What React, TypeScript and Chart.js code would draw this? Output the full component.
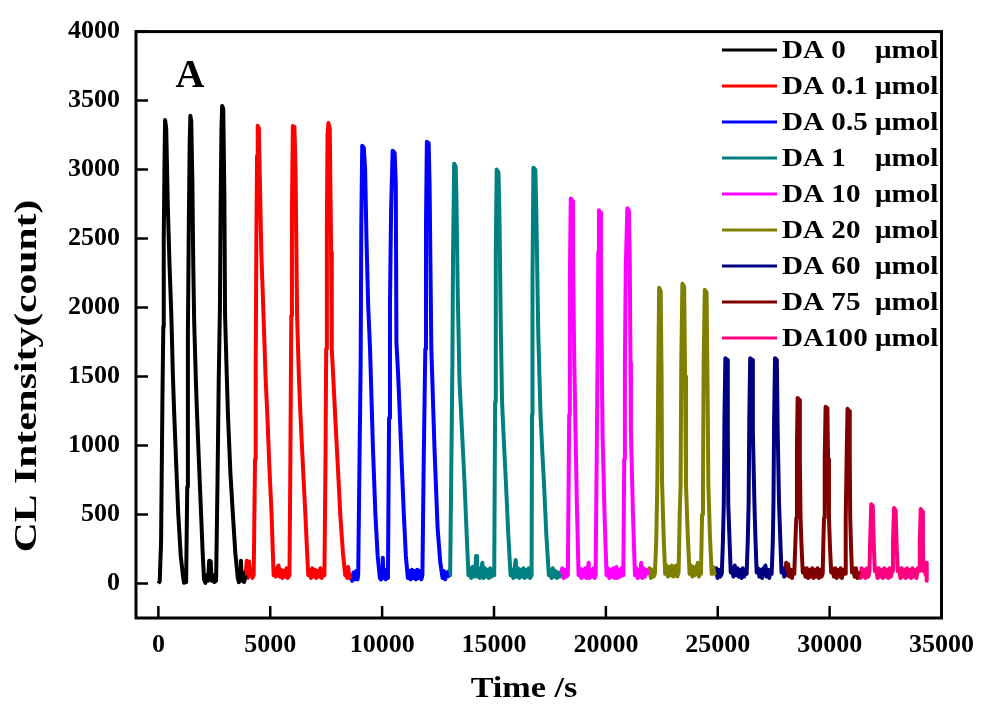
import { useEffect, useRef } from "react";
import { Chart, registerables } from "chart.js";

Chart.register(...registerables);

const seriesNames = ["DA 0", "DA 0.1", "DA 0.5", "DA 1", "DA 10", "DA 20", "DA 60", "DA 75", "DA100"];
const seriesUnit = "μmol";
const seriesColors = ["#000000", "#FF0000", "#0000FF", "#008080", "#FF00FF", "#808000", "#000080", "#800000", "#FF0080"];

const xTicks = [0, 5000, 10000, 15000, 20000, 25000, 30000, 35000];
const yTicks = [0, 500, 1000, 1500, 2000, 2500, 3000, 3500, 4000];

const da0: [number, number][] = [
  [0, 0], [60, 15], [120, 300], [180, 1316], [220, 1860], [240, 2500], [270, 3000], [300, 3360], [350, 3300], [420, 2750],
  [500, 2300], [580, 1940], [650, 1500], [710, 1220], [800, 850], [890, 500], [1000, 200], [1110, 40], [1150, 5], [1200, 40],
  [1240, 10], [1290, 700], [1320, 1820], [1360, 2600], [1400, 3200], [1430, 3390], [1470, 3350], [1520, 2900], [1560, 2300], [1600, 1900],
  [1680, 1450], [1730, 1220], [1820, 850], [1910, 500], [1980, 220], [2040, 30], [2100, 5], [2160, 60], [2220, 20], [2270, 165],
  [2300, 30], [2340, 160], [2380, 20], [2440, 60], [2500, 10], [2580, 20], [2640, 700], [2700, 1500], [2750, 1985], [2780, 2700],
  [2820, 3300], [2850, 3460], [2900, 3440], [2950, 2800], [2980, 1950], [3040, 1600], [3110, 1220], [3220, 800], [3330, 500], [3440, 220],
  [3550, 40], [3600, 10], [3650, 60], [3690, 165], [3730, 20], [3780, 80], [3830, 10], [3900, 60],
];

const da01: [number, number][] = [
  [3900, 60], [3950, 165], [4000, 40], [4050, 160], [4100, 60], [4150, 100], [4200, 40], [4260, 60], [4320, 900], [4350, 1600],
  [4380, 2500], [4410, 3100], [4440, 3317], [4490, 3300], [4540, 2900], [4600, 2400], [4700, 1940], [4790, 1500], [4870, 1220], [4960, 850],
  [5060, 500], [5110, 250], [5150, 60], [5200, 100], [5250, 50], [5300, 110], [5370, 130], [5420, 50], [5480, 100], [5540, 40],
  [5600, 90], [5660, 50], [5720, 110], [5780, 40], [5860, 60], [5900, 900], [5940, 1940], [5970, 2700], [6010, 3315], [6080, 3310],
  [6130, 3000], [6200, 1940], [6280, 1500], [6350, 1220], [6460, 850], [6570, 500], [6640, 250], [6700, 60], [6760, 100], [6820, 40],
  [6880, 110], [6940, 50], [7000, 100], [7060, 40], [7120, 90], [7180, 50], [7240, 110], [7300, 40], [7360, 70], [7420, 60],
  [7470, 900], [7500, 1700], [7530, 2600], [7560, 3250], [7600, 3338], [7660, 3300], [7720, 2400], [7750, 1700], [7830, 1450], [7900, 1220],
  [8020, 850], [8130, 500], [8250, 220], [8350, 60], [8400, 100], [8440, 40], [8480, 120], [8540, 40], [8600, 60],
];

const da05: [number, number][] = [
  [8600, 60], [8660, 20], [8720, 80], [8780, 30], [8840, 90], [8900, 30], [8930, 60], [8990, 900], [9040, 1583], [9070, 2600],
  [9110, 3173], [9180, 3160], [9240, 3000], [9300, 2500], [9380, 2000], [9460, 1700], [9590, 980], [9700, 500], [9800, 200], [9900, 40],
  [9950, 30], [10000, 90], [10030, 187], [10060, 40], [10110, 100], [10160, 30], [10210, 60], [10260, 40], [10310, 1200], [10350, 2014],
  [10400, 2700], [10470, 3137], [10560, 3120], [10610, 2900], [10640, 1748], [10720, 1500], [10790, 1223], [10880, 850], [10970, 504], [11060, 200],
  [11150, 40], [11210, 90], [11270, 30], [11330, 100], [11390, 40], [11450, 90], [11510, 30], [11570, 100], [11630, 40], [11690, 90],
  [11750, 30], [11800, 60], [11860, 900], [11930, 1700], [11960, 2600], [12000, 3201], [12080, 3190], [12120, 2900], [12200, 1700], [12340, 980],
  [12480, 400], [12600, 150], [12700, 40], [12760, 90], [12820, 30], [12880, 80], [12920, 40],
];

const da1: [number, number][] = [
  [12920, 40], [12980, 90], [13040, 60], [13090, 800], [13140, 1583], [13170, 2400], [13220, 3043], [13290, 3020], [13320, 2800], [13380, 2100],
  [13460, 1460], [13570, 1100], [13680, 741], [13780, 350], [13860, 60], [13920, 110], [13980, 40], [14040, 120], [14100, 50], [14160, 90],
  [14200, 200], [14240, 50], [14300, 110], [14360, 40], [14420, 100], [14480, 150], [14530, 40], [14590, 110], [14650, 50], [14710, 100],
  [14770, 40], [14830, 110], [14890, 50], [14960, 80], [15010, 60], [15050, 1316], [15080, 2400], [15120, 3000], [15200, 2980], [15240, 2700],
  [15300, 1900], [15360, 1316], [15450, 1000], [15530, 741], [15640, 350], [15740, 60], [15800, 100], [15860, 40], [15920, 110], [15970, 170],
  [16010, 50], [16070, 110], [16130, 40], [16190, 100], [16250, 50], [16310, 110], [16370, 40], [16430, 100], [16490, 50], [16550, 110],
  [16610, 40], [16680, 60], [16700, 1223], [16720, 2200], [16760, 3014], [16850, 3000], [16890, 2700], [16980, 1800], [17080, 1223], [17160, 950],
  [17230, 741], [17340, 350], [17450, 60], [17510, 100], [17570, 40], [17630, 110], [17690, 50], [17750, 90], [17810, 40], [17870, 80],
  [17930, 50], [17990, 70],
];

const da10: [number, number][] = [
  [17990, 70], [18050, 110], [18110, 40], [18170, 100], [18230, 50], [18300, 60], [18360, 1223], [18390, 2200], [18430, 2791], [18500, 2770],
  [18530, 2400], [18580, 1700], [18630, 1223], [18700, 600], [18780, 60], [18840, 110], [18900, 40], [18960, 100], [19020, 50], [19080, 110],
  [19140, 40], [19190, 90], [19230, 150], [19270, 40], [19330, 100], [19390, 50], [19450, 110], [19500, 40], [19540, 60], [19590, 900],
  [19630, 1655], [19660, 2400], [19690, 2705], [19750, 2690], [19780, 2300], [19820, 1600], [19850, 1100], [19940, 500], [20030, 60], [20090, 110],
  [20150, 40], [20210, 100], [20270, 50], [20330, 110], [20390, 40], [20440, 90], [20470, 120], [20520, 40], [20580, 100], [20640, 50],
  [20700, 110], [20780, 60], [20820, 900], [20850, 1583], [20890, 2300], [20960, 2719], [21030, 2700], [21070, 2300], [21100, 1600], [21120, 1100],
  [21210, 500], [21300, 60], [21360, 110], [21420, 40], [21480, 100], [21530, 50], [21580, 150], [21630, 40], [21690, 110], [21750, 50],
  [21810, 100], [21890, 60],
];

const da20: [number, number][] = [
  [21890, 60], [21950, 110], [22010, 40], [22070, 100], [22130, 50], [22190, 70], [22250, 300], [22300, 741], [22340, 1500], [22380, 2144],
  [22450, 2120], [22490, 1500], [22510, 741], [22580, 350], [22650, 70], [22710, 130], [22770, 50], [22830, 120], [22890, 60], [22950, 130],
  [23010, 50], [23070, 110], [23140, 130], [23190, 50], [23250, 80], [23300, 500], [23340, 719], [23370, 1600], [23420, 2173], [23500, 2150],
  [23540, 1500], [23580, 719], [23660, 350], [23740, 70], [23800, 130], [23860, 50], [23920, 120], [23980, 60], [24040, 110], [24110, 150],
  [24160, 50], [24210, 100], [24250, 70], [24300, 500], [24340, 719], [24370, 1600], [24420, 2129], [24500, 2110], [24540, 1500], [24580, 719],
  [24650, 350], [24730, 70], [24790, 120], [24870, 60],
];

const da60: [number, number][] = [
  [24870, 60], [24930, 110], [24990, 40], [25050, 100], [25110, 50], [25180, 70], [25230, 300], [25270, 575], [25300, 1200], [25340, 1633],
  [25420, 1620], [25450, 1100], [25470, 575], [25530, 300], [25580, 80], [25640, 110], [25700, 50], [25760, 130], [25820, 60], [25880, 110],
  [25940, 50], [26000, 100], [26060, 40], [26120, 110], [26180, 50], [26240, 100], [26290, 70], [26340, 300], [26380, 575], [26410, 1200],
  [26450, 1633], [26540, 1620], [26570, 1100], [26640, 575], [26690, 300], [26740, 80], [26800, 110], [26860, 50], [26920, 100], [26980, 40],
  [27040, 110], [27090, 60], [27130, 130], [27180, 50], [27240, 100], [27300, 40], [27360, 100], [27410, 70], [27460, 300], [27490, 575],
  [27520, 1200], [27560, 1633], [27640, 1620], [27680, 1100], [27740, 575], [27800, 300], [27850, 80], [27910, 110], [27970, 50], [28020, 80],
];

const da75: [number, number][] = [
  [28020, 80], [28060, 150], [28100, 60], [28150, 140], [28200, 50], [28260, 100], [28320, 40], [28380, 100], [28420, 70], [28470, 300],
  [28510, 475], [28540, 1000], [28570, 1345], [28640, 1330], [28670, 900], [28700, 475], [28750, 250], [28800, 80], [28860, 110], [28920, 50],
  [28980, 110], [29040, 40], [29100, 100], [29160, 50], [29220, 110], [29280, 40], [29340, 100], [29400, 50], [29460, 110], [29520, 40],
  [29580, 100], [29640, 50], [29690, 70], [29720, 300], [29750, 475], [29780, 900], [29820, 1281], [29900, 1270], [29930, 900], [29970, 475],
  [30020, 250], [30070, 80], [30130, 110], [30190, 50], [30250, 110], [30310, 40], [30370, 100], [30430, 50], [30490, 110], [30550, 40],
  [30610, 100], [30690, 70], [30710, 300], [30730, 475], [30760, 900], [30800, 1266], [30870, 1250], [30900, 900], [30920, 475], [30960, 250],
  [31000, 80], [31060, 110], [31120, 50], [31180, 110], [31240, 40], [31310, 90],
];

const da100: [number, number][] = [
  [31310, 90], [31370, 40], [31430, 110], [31490, 50], [31550, 100], [31610, 40], [31670, 110], [31730, 50], [31780, 90], [31810, 300],
  [31860, 575], [31930, 560], [31970, 300], [32020, 90], [32080, 110], [32140, 40], [32200, 110], [32260, 50], [32320, 100], [32380, 40],
  [32440, 110], [32500, 50], [32560, 100], [32620, 40], [32680, 110], [32740, 50], [32800, 90], [32830, 300], [32880, 547], [32950, 530],
  [32990, 300], [33040, 90], [33100, 110], [33160, 40], [33220, 110], [33280, 50], [33340, 100], [33400, 40], [33460, 110], [33520, 50],
  [33580, 100], [33640, 40], [33700, 110], [33760, 50], [33820, 100], [33880, 40], [33940, 110], [34000, 90], [34030, 300], [34070, 540],
  [34140, 520], [34170, 300], [34190, 90], [34250, 110], [34300, 60], [34330, 150], [34340, 20],
];

const seriesData = [da0, da01, da05, da1, da10, da20, da60, da75, da100];

const SERIF = '"Liberation Serif", "Times New Roman", Times, serif';

function drawStretched(
  ctx: CanvasRenderingContext2D,
  text: string,
  x: number,
  y: number,
  sx: number,
  align: CanvasTextAlign,
  baseline: CanvasTextBaseline,
  rotate = 0
) {
  ctx.save();
  ctx.translate(x, y);
  if (rotate) ctx.rotate(rotate);
  ctx.scale(sx, 1);
  ctx.textAlign = align;
  ctx.textBaseline = baseline;
  ctx.fillText(text, 0, 0);
  ctx.restore();
}

const decorPlugin = {
  id: "decor",
  afterDraw(chart: any) {
    const { ctx, chartArea: a, scales } = chart;
    const xs = scales.x;
    const ys = scales.y;
    ctx.save();
    ctx.strokeStyle = "#000";
    ctx.lineWidth = 3;
    ctx.strokeRect(a.left, a.top, a.right - a.left, a.bottom - a.top);
    ctx.lineWidth = 2.5;
    ctx.beginPath();
    for (const v of xTicks) {
      const px = xs.getPixelForValue(v);
      ctx.moveTo(px, a.bottom);
      ctx.lineTo(px, a.bottom - 12);
    }
    for (const v of yTicks) {
      const py = ys.getPixelForValue(v);
      ctx.moveTo(a.left, py);
      ctx.lineTo(a.left + 12, py);
    }
    ctx.stroke();

    ctx.fillStyle = "#000";
    ctx.font = `bold 26px ${SERIF}`;
    const datasets = chart.data.datasets;
    for (let i = 0; i < datasets.length; i++) {
      const y = 50 + i * 36;
      ctx.strokeStyle = datasets[i].borderColor;
      ctx.lineWidth = 3;
      ctx.beginPath();
      ctx.moveTo(722, y);
      ctx.lineTo(777, y);
      ctx.stroke();
      drawStretched(ctx, seriesNames[i], 782, y + 1, 1.12, "left", "middle");
      drawStretched(ctx, seriesUnit, 875, y + 1, 1.12, "left", "middle");
    }

    ctx.font = `bold 40px ${SERIF}`;
    drawStretched(ctx, "A", 190, 87, 1.0, "center", "alphabetic");

    ctx.font = `bold 30px ${SERIF}`;
    drawStretched(ctx, "Time /s", 524, 697, 1.14, "center", "alphabetic");
    ctx.font = `bold 32px ${SERIF}`;
    drawStretched(ctx, "CL Intensity(count)", 28, 376, 1.3, "center", "middle", -Math.PI / 2);
    ctx.restore();
  },
};

export default function App() {
  const ref = useRef<HTMLCanvasElement | null>(null);
  useEffect(() => {
    const canvas = ref.current;
    if (!canvas) return;
    const chart = new Chart(canvas, {
      type: "line",
      data: {
        datasets: seriesData.map((pts, i) => ({
          label: `${seriesNames[i]} ${seriesUnit}`,
          data: pts.map(([x, y]) => ({ x, y })),
          borderColor: seriesColors[i],
          backgroundColor: seriesColors[i],
          borderWidth: 4,
          borderJoinStyle: "round" as const,
          pointRadius: 0,
          tension: 0,
          fill: false,
        })),
      },
      options: {
        animation: false,
        responsive: false,
        maintainAspectRatio: false,
        layout: { padding: { top: 27, right: 41, left: 0, bottom: 0 } },
        plugins: { legend: { display: false }, tooltip: { enabled: false } },
        scales: {
          x: {
            type: "linear",
            min: -1000,
            max: 35000,
            grid: { display: false, drawTicks: false },
            border: { display: false },
            afterBuildTicks: (s: any) => {
              s.ticks = xTicks.map((v) => ({ value: v }));
            },
            afterFit: (s: any) => {
              s.height = 86;
            },
            ticks: {
              autoSkip: false,
              maxRotation: 0,
              padding: 12,
              color: "#000",
              font: { family: SERIF, size: 26, weight: "bold" },
              callback: (v: any) => String(v),
            },
          },
          y: {
            type: "linear",
            min: -250,
            max: 4000,
            grid: { display: false, drawTicks: false },
            border: { display: false },
            afterBuildTicks: (s: any) => {
              s.ticks = yTicks.map((v) => ({ value: v }));
            },
            afterFit: (s: any) => {
              s.width = 136;
            },
            ticks: {
              padding: 16,
              color: "#000",
              font: { family: SERIF, size: 26, weight: "bold" },
              callback: (v: any) => String(v),
            },
          },
        },
      },
      plugins: [decorPlugin],
    });
    return () => chart.destroy();
  }, []);

  return (
    <div style={{ position: "absolute", left: 0, top: 0, width: 986, height: 704, background: "#fff" }}>
      <canvas ref={ref} width={986} height={704} style={{ display: "block" }} />
    </div>
  );
}
